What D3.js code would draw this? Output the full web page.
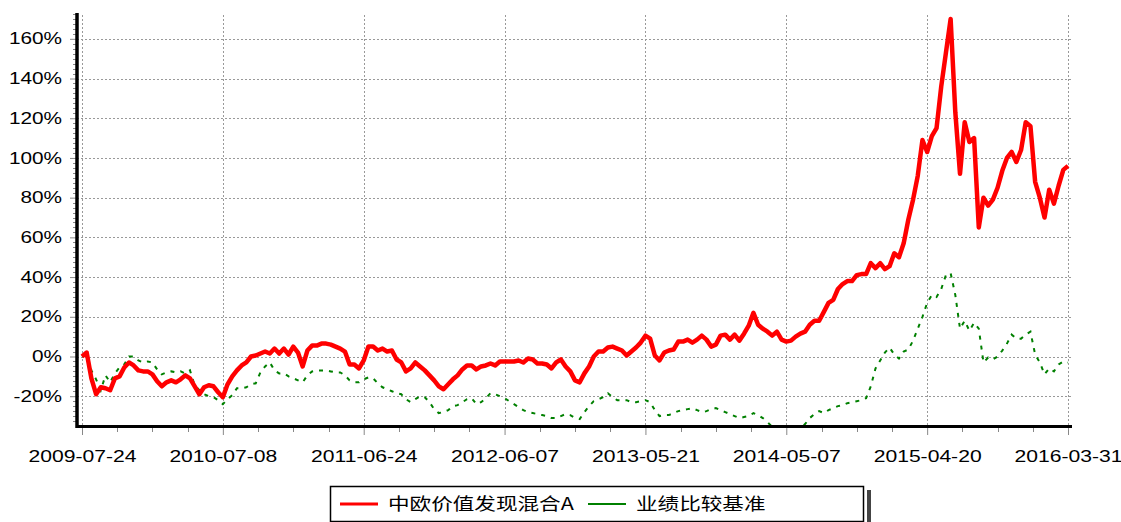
<!DOCTYPE html>
<html>
<head>
<meta charset="utf-8">
<script src="https://cdnjs.cloudflare.com/ajax/libs/d3/7.8.5/d3.min.js"></script>
<style>
  body { margin: 0; background: #fff; }
  svg { display: block; }
</style>
</head>
<body>
<svg id="chart"></svg>
<script>
const WIDTH = 1121;
const HEIGHT = 522;

// tick labels (trading-day axis, equal spacing)
const dateLabels = ["2009-07-24", "2010-07-08", "2011-06-24", "2012-06-07", "2013-05-21", "2014-05-07", "2015-04-20", "2016-03-31"];
const yTicks = [-20, 0, 20, 40, 60, 80, 100, 120, 140, 160];
const seriesNames = ["中欧价值发现混合A", "业绩比较基准"];

// cumulative return (%), sampled evenly along the date axis
const fundValues = [
  0, 2, -11, -19, -15.5, -16, -17, -11, -10, -5.5,
  -3, -4.5, -7, -7.5, -7.5, -9, -12.5, -15, -13, -12,
  -13, -11.5, -9.5, -11, -15, -19, -15.5, -14.5, -15, -18,
  -20.5, -14, -10, -7, -4.5, -3, 0, 0.5, 1.5, 2.5,
  1.5, 4, 1.5, 4, 1, 5, 2, -5, 3, 5.5,
  5.5, 6.5, 6.5, 6, 5, 4, 2.5, -4, -4, -6,
  -2, 5, 5, 3, 4, 2.5, 3, -1.5, -3, -7.5,
  -6, -3, -5, -7, -9.5, -12, -15, -16.5, -14, -11.5,
  -9.5, -6.5, -4.5, -4.5, -6.5, -5, -4.5, -3.5, -4.5, -2.5,
  -2.5, -2.5, -2.5, -2, -3, -1, -1.5, -3.5, -3.5, -4,
  -6, -3, -1.5, -5, -7.5, -12, -13, -8.5, -5, 0,
  2.5, 2.5, 4.5, 5, 4, 3, 0.5, 2.5, 4.5, 7,
  10.5, 9, 0.5, -2, 2, 3, 3.5, 7.5, 7.5, 8.5,
  7, 8.5, 10.5, 8.5, 5, 6, 10.5, 11, 8.5, 11,
  8, 11.5, 15.5, 22, 16, 14, 12.5, 10.5, 12.5, 8.5,
  7.5, 8, 10, 11.5, 12.5, 16, 18, 18, 22.5, 27,
  28.5, 34, 36.5, 38, 38, 41, 41.5, 41.5, 47, 44.5,
  47, 44, 45.5, 52, 50, 57, 69, 79, 91, 109,
  103, 111, 115, 136, 153, 170, 123, 92, 118, 108,
  110, 65, 80, 76, 79, 85, 93.5, 100, 103, 98,
  104, 118, 116, 88, 80, 70, 84, 77, 86, 94,
  96
];

const benchValues = [
  0, 1, -7, -11.5, -17, -9.5, -13, -8.5, -5.5, -4,
  0, 0, -2, -3, -2.5, -3, -6.5, -9, -8, -7.5,
  -8, -7.5, -8.5, -7, -14.5, -17, -19, -20, -20.5, -22,
  -24, -21.5, -19.5, -16, -16, -15.5, -14, -13.5, -8, -5,
  -3, -7, -8.5, -8.5, -10, -11, -12, -13, -9.5, -7.5,
  -7, -7, -7, -7.5, -8, -8, -9.5, -12, -13, -13,
  -11.5, -10.5, -11, -13.5, -15.5, -16.5, -17.5, -18.5, -19, -21.5,
  -23, -21.5, -20, -20.5, -23, -26.5, -28.5, -28, -27, -25,
  -24.5, -23, -21.5, -21, -24, -23, -21, -18.5, -19, -20,
  -21, -22.5, -24, -25.5, -27, -28, -28.5, -29, -29.5, -30,
  -31, -31, -30, -29, -29.5, -31, -31.5, -28, -25, -22.5,
  -21.5, -20.5, -18.5, -20.5, -22, -22, -22, -23, -23, -22.5,
  -22, -23, -27, -30, -29.5, -29.5, -28.5, -27.5, -27, -26.5,
  -26, -27, -28, -27.5, -26.5, -26, -27, -28, -29, -30,
  -31, -30.5, -30, -28.5, -29.5, -31, -33, -35.5, -37, -37.5,
  -38, -37, -36.5, -36, -34, -31, -29, -27.5, -28.5, -27,
  -26, -25, -24.5, -23.5, -23, -22.5, -22, -21, -15, -6,
  -2, 2, 4.5, 1, -1, 2.5, 3.5, 8, 14, 20,
  27, 31, 30, 34, 41, 42, 31, 14, 18, 13,
  17, 14, -3, -0.5, -1.5, 0, 3, 6.5, 11, 9,
  9, 11, 12.5, 1, -3, -9, -6, -7.5, -4, -2.5,
  -3
];

const svg = d3.select("#chart").attr("width", WIDTH).attr("height", HEIGHT);

const plotLeft = 77, plotRight = 1072, plotTop = 13, plotBottom = 426;
const n = fundValues.length - 1;
const x = d3.scaleLinear().domain([0, n]).range([82, 1068]);
const y = d3.scaleLinear().domain([-35, 173]).range([plotBottom, plotTop]);
const tickIdx = dateLabels.map((_, i) => (i * n) / (dateLabels.length - 1));

const FONT = "'Liberation Sans', Arial, sans-serif";

// grid
const grid = svg.append("g").attr("stroke", "#999").attr("stroke-width", 1).attr("stroke-dasharray", "2,2");
grid.append("g").selectAll("line").data(yTicks).join("line")
  .attr("x1", plotLeft).attr("x2", plotRight)
  .attr("y1", (d) => Math.round(y(d)) + 0.5).attr("y2", (d) => Math.round(y(d)) + 0.5);
grid.append("g").selectAll("line").data(tickIdx).join("line")
  .attr("x1", (d) => Math.round(x(d)) + 0.5).attr("x2", (d) => Math.round(x(d)) + 0.5)
  .attr("y1", plotTop + 2).attr("y2", plotBottom);

// lines
svg.append("clipPath").attr("id", "clip").append("rect")
  .attr("x", plotLeft).attr("y", plotTop).attr("width", plotRight - plotLeft).attr("height", plotBottom - plotTop);

const line = d3.line().x((d, i) => x(i)).y((d) => y(d));

svg.append("path")
  .datum(benchValues)
  .attr("clip-path", "url(#clip)")
  .attr("fill", "none")
  .attr("stroke", "#008000")
  .attr("stroke-width", 2)
  .attr("stroke-dasharray", "4,6")
  .attr("d", line);

svg.append("path")
  .datum(fundValues)
  .attr("clip-path", "url(#clip)")
  .attr("fill", "none")
  .attr("stroke", "#ff0000")
  .attr("stroke-width", 4.5)
  .attr("stroke-linejoin", "round")
  .attr("d", line);

// y axis
const minorY = d3.range(-32.5, 173, 2.5).filter((d) => d % 20 !== 0);
svg.append("g").selectAll("line").data(minorY).join("line")
  .attr("x1", plotLeft - 4).attr("x2", plotLeft)
  .attr("y1", (d) => Math.round(y(d)) + 0.5).attr("y2", (d) => Math.round(y(d)) + 0.5)
  .attr("stroke", "#888");

const yAxis = svg.append("g")
  .attr("transform", `translate(${plotLeft},0)`)
  .call(d3.axisLeft(y).tickValues(yTicks).tickFormat((d) => d + "%").tickSize(7));
yAxis.select(".domain").remove();
yAxis.selectAll(".tick line").attr("stroke", "#888");
yAxis.selectAll(".tick text")
  .attr("x", -11.5)
  .attr("transform", "scale(1.3,1)")
  .attr("font-family", FONT).attr("font-size", 16).attr("fill", "#000");

// x axis
const minorX = d3.range(0, n + 0.01, n / 28).filter((_, i) => i % 4 !== 0);
svg.append("g").selectAll("line").data(minorX).join("line")
  .attr("x1", (d) => Math.round(x(d)) + 0.5).attr("x2", (d) => Math.round(x(d)) + 0.5)
  .attr("y1", plotBottom).attr("y2", plotBottom + 6)
  .attr("stroke", "#888");

const xAxis = svg.append("g")
  .attr("transform", `translate(0,${plotBottom})`)
  .call(d3.axisBottom(x).tickValues(tickIdx).tickFormat((d, i) => dateLabels[i]).tickSize(9));
xAxis.select(".domain").remove();
xAxis.selectAll(".tick line").attr("stroke", "#888");
xAxis.selectAll(".tick text")
  .attr("y", 25)
  .attr("transform", "scale(1.32,1)")
  .attr("font-family", FONT).attr("font-size", 16).attr("fill", "#000");

// thick axis lines
svg.append("line").attr("x1", plotLeft).attr("x2", plotLeft).attr("y1", plotTop).attr("y2", plotBottom + 2)
  .attr("stroke", "#000").attr("stroke-width", 3.5);
svg.append("line").attr("x1", plotLeft - 1).attr("x2", plotRight).attr("y1", plotBottom + 0.5).attr("y2", plotBottom + 0.5)
  .attr("stroke", "#000").attr("stroke-width", 3);

// legend
const legend = svg.append("g").attr("transform", "translate(330,486)");
legend.append("rect").attr("x", 537).attr("y", 4).attr("width", 4).attr("height", 36).attr("fill", "#444");
legend.append("rect").attr("x", 0.5).attr("y", 0.5).attr("width", 533).attr("height", 35)
  .attr("fill", "#fff").attr("stroke", "#000").attr("stroke-width", 1.5);

const legendItems = [
  { name: seriesNames[0], color: "#ff0000", width: 3, x0: 10 },
  { name: seriesNames[1], color: "#008000", width: 2, x0: 258 }
];
legend.selectAll(".item").data(legendItems).join((enter) => {
  const g = enter.append("g").attr("class", "item").attr("transform", (d) => `translate(${d.x0},18)`);
  g.append("line").attr("x1", 0).attr("x2", 38).attr("y1", 0).attr("y2", 0)
    .attr("stroke", (d) => d.color).attr("stroke-width", (d) => d.width);
  g.append("text")
    .text((d) => d.name)
    .attr("transform", "translate(48,6) scale(1.27,1)")
    .attr("font-family", "'Noto Sans CJK SC', sans-serif")
    .attr("font-size", 17)
    .attr("fill", "#000");
  return g;
});
</script>
</body>
</html>
